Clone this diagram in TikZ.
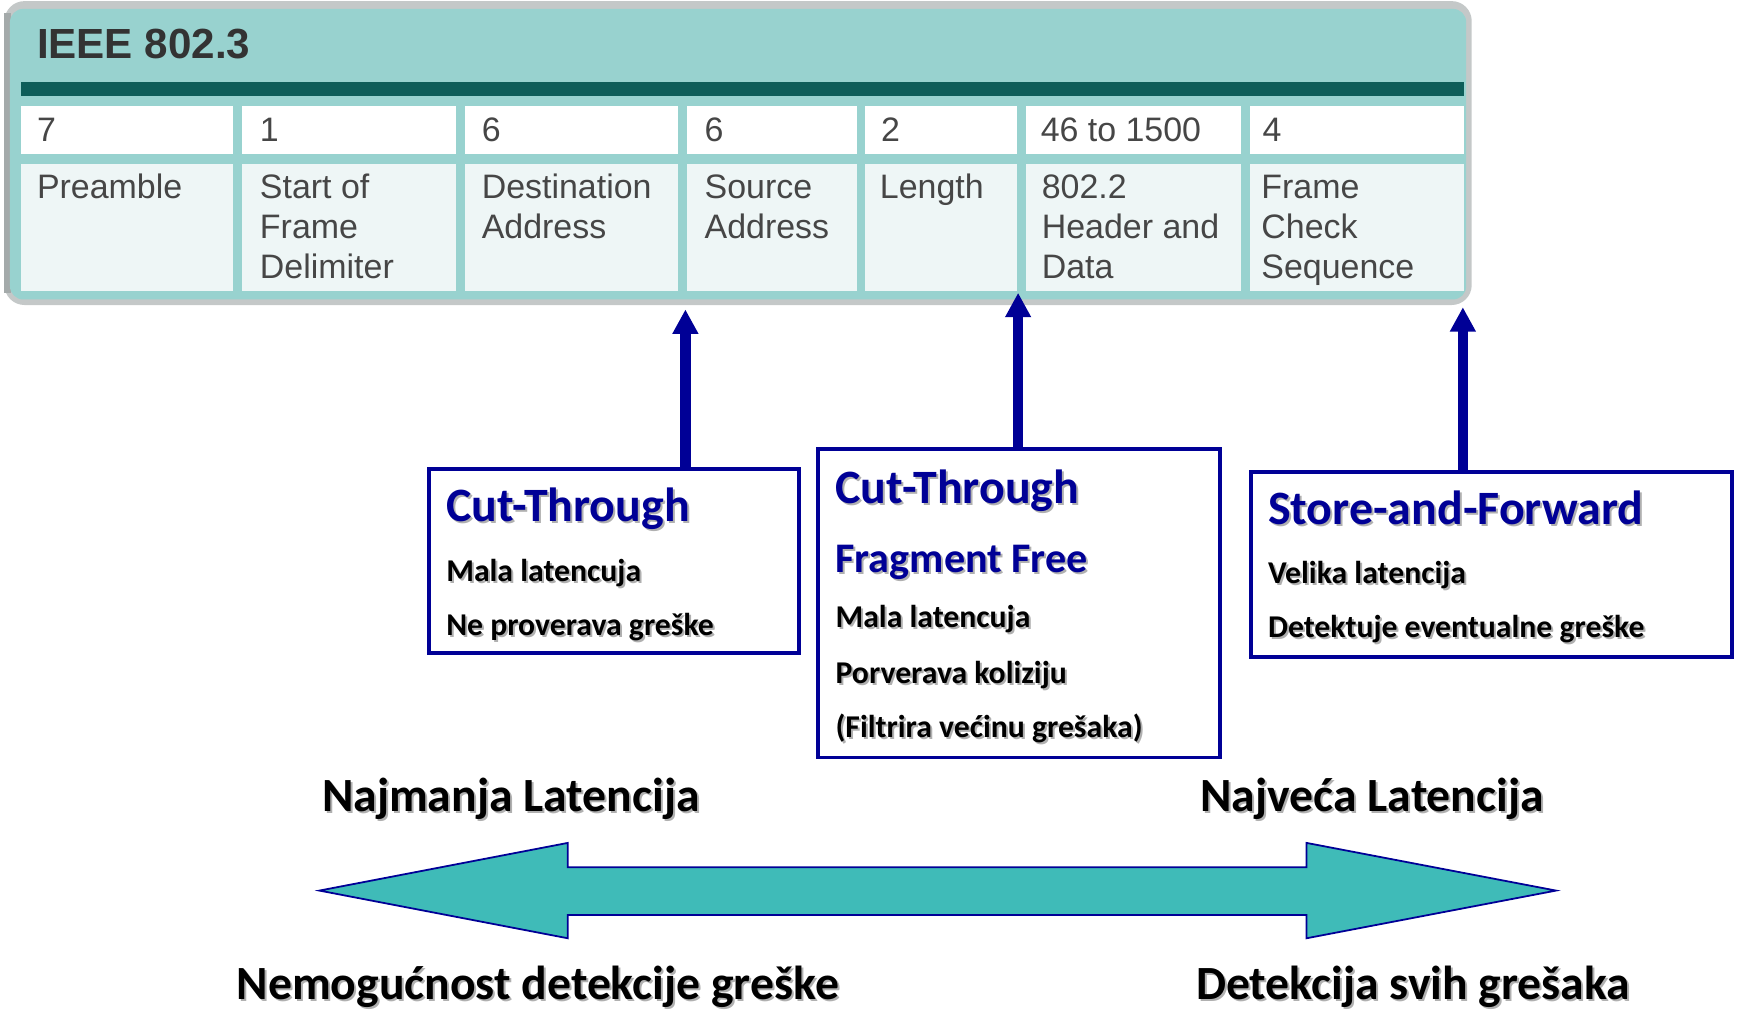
\documentclass[tikz,border=0pt]{standalone}
\usepackage{fontspec}
\setmainfont{Carlito}
\newfontfamily\arialf{Liberation Sans}
\usetikzlibrary{arrows.meta,fit,calc}

\definecolor{frameteal}{HTML}{98D2CF}
\definecolor{framegray}{HTML}{C4C8C8}
\definecolor{frameedge}{HTML}{A4AAAA}
\definecolor{barteal}{HTML}{0E5D59}
\definecolor{cellpale}{HTML}{EEF6F6}
\definecolor{tabletext}{HTML}{464646}
\definecolor{titletext}{HTML}{333333}
\definecolor{navy}{RGB}{0,0,150}
\definecolor{arrowteal}{HTML}{3FBBB8}
\definecolor{txtshadow}{HTML}{B0B0B0}

% text with a soft drop shadow
\newcommand\shadowed[1]{\leavevmode\rlap{\kern0.9pt\raisebox{-0.9pt}{\textcolor{txtshadow}{#1}}}#1}

\tikzset{
  tabtxt/.style={font=\arialf\fontsize{15.3}{18}\selectfont, text=tabletext, anchor=base west, inner sep=0pt},
  boxtitle/.style={font=\bfseries\fontsize{21.6}{24}\selectfont, text=navy, anchor=base west, inner sep=0pt},
  boxsub/.style={font=\bfseries\fontsize{19}{22}\selectfont, text=navy, anchor=base west, inner sep=0pt},
  boxbody/.style={font=\bfseries\fontsize{14.3}{17}\selectfont, text=black, anchor=base west, inner sep=0pt},
  scalelbl/.style={font=\bfseries\fontsize{21.5}{24}\selectfont, text=black, anchor=base west, inner sep=0pt},
  modebox/.style={draw=navy, line width=1.8pt, inner sep=0pt},
  uparrow/.style={navy, line width=4.6pt, -{Triangle[width=11pt,length=11pt]}},
}

\begin{document}
\begin{tikzpicture}[x=0.5pt,y=-0.5pt]
\useasboundingbox (0,0) rectangle (1568,917);

% ---- IEEE 802.3 frame table ----
\fill[framegray, rounded corners=9] (4,1) rectangle (1327,275);
\fill[frameedge] (4,12) rectangle (10,264);
\fill[frameteal, rounded corners=6] (9,8) rectangle (1322,270);
\node[font=\arialf\bfseries\fontsize{19}{22}\selectfont, text=titletext, anchor=base west, inner sep=0pt] (ieee) at (33,53) {IEEE 802.3};
\fill[barteal] (19,74) rectangle (1320,87);
\foreach \l/\r in {19/210,218/411,419/611,619/773,780/917,925/1119,1127/1320} {
  \fill[white] (\l,96) rectangle (\r,139);
  \fill[cellpale] (\l,148) rectangle (\r,262);
}
% field sizes
\node[tabtxt] (n1) at (33,128) {7};
\node[tabtxt] (n2) at (234,128) {1};
\node[tabtxt] (n3) at (434,128) {6};
\node[tabtxt] (n4) at (635,128) {6};
\node[tabtxt] (n5) at (794,128) {2};
\node[tabtxt] (n6) at (938,128) {46 to 1500};
\node[tabtxt] (n7) at (1138,128) {4};
% field names
\node[tabtxt] (f1a) at (33,179) {Preamble};
\node[tabtxt] (f2a) at (234,179) {Start of};
\node[tabtxt] (f2b) at (234,215) {Frame};
\node[tabtxt] (f2c) at (234,251) {Delimiter};
\node[tabtxt] (f3a) at (434,179) {Destination};
\node[tabtxt] (f3b) at (434,215) {Address};
\node[tabtxt] (f4a) at (635,179) {Source};
\node[tabtxt] (f4b) at (635,215) {Address};
\node[tabtxt] (f5a) at (793,179) {Length};
\node[tabtxt] (f6a) at (939,179) {802.2};
\node[tabtxt] (f6b) at (939,215) {Header and};
\node[tabtxt] (f6c) at (939,251) {Data};
\node[tabtxt] (f7a) at (1137,179) {Frame};
\node[tabtxt] (f7b) at (1137,215) {Check};
\node[tabtxt] (f7c) at (1137,251) {Sequence};

% ---- switching mode boxes ----
\node[modebox, fit={(387,423) (720,589)}] (ct) {};
\node[boxtitle] (ctT) at (402,470) {\shadowed{Cut-Through}};
\node[boxbody] (ct1) at (402,524) {\shadowed{Mala latencuja}};
\node[boxbody] (ct2) at (402,573) {\shadowed{Ne proverava greške}};

\node[modebox, fit={(738,405) (1100,683)}] (ff) {};
\node[boxtitle] (ffT) at (753,454) {\shadowed{Cut-Through}};
\node[boxsub] (ffS) at (753,516) {\shadowed{Fragment Free}};
\node[boxbody] (ff1) at (753,566) {\shadowed{Mala latencuja}};
\node[boxbody] (ff2) at (753,616) {\shadowed{Porverava koliziju}};
\node[boxbody] (ff3) at (753,665) {\shadowed{(Filtrira većinu grešaka)}};

\node[modebox, fit={(1128,426) (1562,592)}] (sf) {};
\node[boxtitle] (sfT) at (1143,473) {\shadowed{Store-and-Forward}};
\node[boxbody] (sf1) at (1143,526) {\shadowed{Velika latencija}};
\node[boxbody] (sf2) at (1143,575) {\shadowed{Detektuje eventualne greške}};

% arrows into the frame
\coordinate (tipct) at (618,279);
\coordinate (tipff) at (918,264);
\coordinate (tipsf) at (1319,277);
\draw[uparrow] (tipct |- ct.north) -- (tipct);
\draw[uparrow] (tipff |- ff.north) -- (tipff);
\draw[uparrow] (tipsf |- sf.north) -- (tipsf);

% ---- latency / error detection scale ----
\node[scalelbl] (lo) at (290,732) {\shadowed{Najmanja Latencija}};
\node[scalelbl] (hi) at (1082,732) {\shadowed{Najveća Latencija}};
\draw[navy, line width=0.8pt, fill=arrowteal, line join=miter]
  (288,803) -- (512,760) -- (512,782) -- (1178,782) -- (1178,760) -- (1403,803)
  -- (1178,846) -- (1178,825) -- (512,825) -- (512,846) -- cycle;
\node[scalelbl] (noerr) at (213,901) {\shadowed{Nemogućnost detekcije greške}};
\node[scalelbl] (allerr) at (1078,901) {\shadowed{Detekcija svih grešaka}};
\end{tikzpicture}
\end{document}
